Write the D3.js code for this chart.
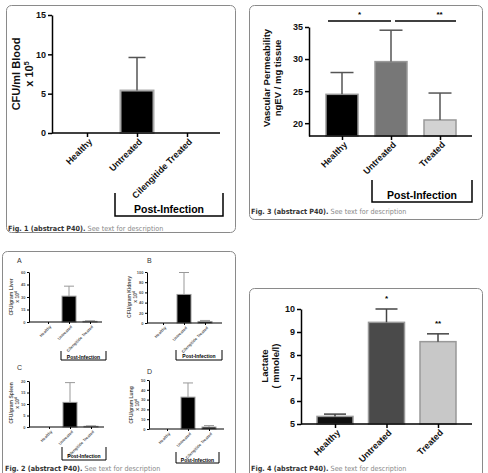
<!DOCTYPE html>
<html>
<head>
<meta charset="utf-8">
<script src="https://cdn.jsdelivr.net/npm/d3@7"></script>
<style>
  body { margin: 0; background: #fff; }
  svg { font-family: "Liberation Sans", Arial, sans-serif; }
</style>
</head>
<body>
<div id="chart"></div>
<script>
// ---- data ----
var cilCats = ["Healthy", "Untreated", "Cilengitide Treated"];
var shortCats = ["Healthy", "Untreated", "Treated"];

// Fig 1: CFU/ml blood x 10^5
var bloodMeans = [0, 5.4, 0];
var bloodUpper = [0, 9.6, 0];
var bloodTicks = [0, 5, 10, 15];

// Fig 3: vascular permeability
var permMeans = [24.5, 29.6, 20.5];
var permUpper = [27.9, 34.5, 24.7];
var permTicks = [20, 25, 30, 35];

// Fig 4: lactate
var lacMeans = [5.33, 9.42, 8.58];
var lacUpper = [5.43, 10.0, 8.92];
var lacTicks = [5, 6, 7, 8, 9, 10];
var lacStars = ["", "*", "**"];

// Fig 2: organ CFU/gram x 10^4
var liverMeans = [0, 31, 0.8];
var liverUpper = [0, 43, 1.5];
var liverTicks = [0, 15, 30, 45, 60];
var kidneyMeans = [0, 56, 3];
var kidneyUpper = [0, 99, 5];
var kidneyTicks = [0, 20, 40, 60, 80, 100];
var spleenMeans = [0, 10.7, 0.3];
var spleenUpper = [0, 19.3, 0.5];
var spleenTicks = [0, 5, 10, 15, 20];
var lungMeans = [0, 32.5, 2];
var lungUpper = [0, 47, 3.5];
var lungTicks = [0, 10, 20, 30, 40, 50];

var svg = d3.select("#chart").append("svg")
  .attr("width", 488)
  .attr("height", 473);

// panel frames
function frame(x, y, w, h) {
  svg.append("rect").attr("x", x).attr("y", y).attr("width", w).attr("height", h)
    .attr("rx", 5).attr("fill", "none").attr("stroke", "#8a8a8a").attr("stroke-width", 1);
}
frame(6.5, 5.5, 229, 227);
frame(249.5, 5.5, 233, 214);
frame(2.5, 251.5, 233, 240);
frame(249.5, 288.5, 233, 200);

function caption(x, y, num) {
  var t = svg.append("text").attr("x", x).attr("y", y)
    .attr("font-size", 7.2).attr("font-family", "'Liberation Sans Narrow', 'DejaVu Sans Condensed', sans-serif");
  t.append("tspan").attr("font-weight", "bold").attr("fill", "#333").text("Fig. " + num + " (abstract P40).");
  t.append("tspan").attr("fill", "#888").text(" See text for description");
}
caption(8, 231, 1);
caption(251, 214, 3);
caption(5, 471, 2);
caption(251, 471, 4);

// generic bar chart
function barChart(o) {
  var y = d3.scaleLinear().domain(o.yDomain).range(o.yRange);
  var x = d3.scalePoint().domain(o.cats).range(o.centers);
  var g = svg.append("g");
  var base = o.yRange[0];

  g.selectAll("rect.bar").data(o.cats).enter().append("rect")
    .attr("class", "bar")
    .attr("x", d => x(d) - o.bw / 2)
    .attr("y", (d, i) => y(o.means[i]))
    .attr("width", o.bw)
    .attr("height", (d, i) => base - y(o.means[i]))
    .attr("fill", (d, i) => o.fills[i])
    .attr("stroke", o.barStroke)
    .attr("stroke-width", o.bsw);

  // upper error bars
  o.cats.forEach(function(d, i) {
    if (o.upper[i] <= o.means[i]) return;
    g.append("line").attr("x1", x(d)).attr("x2", x(d))
      .attr("y1", y(o.means[i])).attr("y2", y(o.upper[i]))
      .attr("stroke", o.errColor).attr("stroke-width", o.esw);
    g.append("line").attr("x1", x(d) - o.cap / 2).attr("x2", x(d) + o.cap / 2)
      .attr("y1", y(o.upper[i])).attr("y2", y(o.upper[i]))
      .attr("stroke", o.errColor).attr("stroke-width", o.esw);
  });

  // y axis
  var ya = g.append("g").attr("transform", "translate(" + o.x0 + ",0)")
    .call(d3.axisLeft(y).tickValues(o.ticks).tickFormat(d3.format("d"))
      .tickSize(o.tick).tickSizeOuter(0).tickPadding(o.pad));
  ya.select(".domain").attr("stroke-width", o.asw);
  ya.selectAll(".tick line").attr("stroke-width", o.asw);
  ya.selectAll("text").attr("font-size", o.fs).attr("font-weight", "bold").attr("fill", o.textColor);

  // x axis
  var xa = g.append("g").attr("transform", "translate(0," + base + ")")
    .call(d3.axisBottom(x).tickSize(o.tick).tickSizeOuter(0));
  xa.select(".domain").remove();
  xa.append("line").attr("x1", o.x0).attr("x2", o.x1).attr("stroke", "#000").attr("stroke-width", o.asw);
  xa.selectAll(".tick line").attr("stroke-width", o.asw);
  xa.selectAll("text")
    .attr("x", 0).attr("y", 0).attr("dy", "0.35em")
    .attr("text-anchor", "end")
    .attr("transform", "translate(" + o.lx + "," + o.ly + ") rotate(-45)")
    .attr("font-size", o.xfs).attr("font-weight", "bold").attr("fill", o.textColor);

  // y title
  o.ylab.forEach(function(line, k) {
    var t = g.append("text")
      .attr("transform", "translate(" + o.ylx[k] + "," + o.lyc + ") rotate(-90)")
      .attr("text-anchor", "middle").attr("font-size", o.yfs).attr("font-weight", "bold")
      .attr("fill", o.textColor);
    t.append("tspan").text(line[0]);
    if (line[1]) t.append("tspan").attr("font-size", o.yfs * 0.65).attr("dy", -o.yfs * 0.4).text(line[1]);
  });
  return {x: x, y: y, g: g};
}

function bracket(x0, x1, yTop, yBot, ty, fs, sw) {
  svg.append("path")
    .attr("d", "M" + x0 + "," + yTop + "V" + yBot + "H" + x1 + "V" + yTop)
    .attr("fill", "none").attr("stroke", "#000").attr("stroke-width", sw);
  svg.append("text").attr("x", (x0 + x1) / 2).attr("y", ty)
    .attr("text-anchor", "middle").attr("font-size", fs).attr("font-weight", "bold")
    .text("Post-Infection");
}

// ---- Fig 1 ----
barChart({
  cats: cilCats, means: bloodMeans, upper: bloodUpper, ticks: bloodTicks,
  yDomain: [0, 15], yRange: [133, 15], centers: [87, 187], x0: 52, x1: 220,
  bw: 33, fills: ["#000", "#000", "#000"], barStroke: "#aaa", bsw: 2,
  errColor: "#555", esw: 1.5, cap: 17, tick: 4, pad: 2, asw: 1.5,
  fs: 9, xfs: 9, textColor: "#111", lx: 3, ly: 7,
  ylab: [["CFU/ml Blood"], ["x 10", "5"]], ylx: [20, 33], lyc: 74, yfs: 11
});
bracket(115, 223, 193, 216, 213, 10.5, 1.5);

// ---- Fig 3 ----
var f3 = barChart({
  cats: shortCats, means: permMeans, upper: permUpper, ticks: permTicks,
  yDomain: [18, 35], yRange: [136, 27], centers: [342, 440], x0: 309, x1: 472,
  bw: 32, fills: ["#000", "#777", "#d2d2d2"], barStroke: "#999", bsw: 1.5,
  errColor: "#555", esw: 1.5, cap: 23, tick: 4, pad: 2, asw: 1.5,
  fs: 9, xfs: 9, textColor: "#111", lx: 3, ly: 7,
  ylab: [["Vascular Permeability"], ["ngEV / mg tissue"]], ylx: [270, 281], lyc: 78, yfs: 9.5
});
var sig = [[328, 391, "*"], [395, 456, "**"]];
sig.forEach(function(s) {
  svg.append("line").attr("x1", s[0]).attr("x2", s[1]).attr("y1", 21).attr("y2", 21)
    .attr("stroke", "#000").attr("stroke-width", 1.5);
  svg.append("text").attr("x", (s[0] + s[1]) / 2 + (s[2] == "**" ? 14 : 0)).attr("y", 17)
    .attr("text-anchor", "middle").attr("font-size", 8).attr("font-weight", "bold").text(s[2]);
});
bracket(372, 472, 180, 202, 199, 10.5, 1.5);

// ---- Fig 4 ----
var f4 = barChart({
  cats: shortCats, means: lacMeans, upper: lacUpper, ticks: lacTicks,
  yDomain: [5, 10], yRange: [424, 309], centers: [335, 438], x0: 301, x1: 472,
  bw: 36, fills: ["#111", "#4a4a4a", "#c8c8c8"], barStroke: "#999", bsw: 1.5,
  errColor: "#444", esw: 1.5, cap: 22, tick: 4, pad: 2, asw: 1.5,
  fs: 9, xfs: 9, textColor: "#111", lx: 3, ly: 7,
  ylab: [["Lactate"], ["( mmole/l)"]], ylx: [268, 279], lyc: 366, yfs: 9.5
});
shortCats.forEach(function(c, i) {
  if (!lacStars[i]) return;
  svg.append("text").attr("x", f4.x(c)).attr("y", f4.y(lacUpper[i]) - 8)
    .attr("text-anchor", "middle").attr("font-size", 8).attr("font-weight", "bold").text(lacStars[i]);
});

// ---- Fig 2 (four small panels) ----
var small = [
  {L: "A", lx: 17, ly: 263, means: liverMeans, upper: liverUpper, ticks: liverTicks, dom: [0, 60],
   yr: [322, 272], c: [48, 90], x0: 29, x1: 102, lab: "CFU/gram Liver", tx: [13, 19], lyc: 297,
   br: [61, 106, 351, 360, 358.5]},
  {L: "B", lx: 147, ly: 263, means: kidneyMeans, upper: kidneyUpper, ticks: kidneyTicks, dom: [0, 100],
   yr: [323, 272], c: [163, 205], x0: 147, x1: 222, lab: "CFU/gram Kidney", tx: [131, 137], lyc: 297,
   br: [176, 222, 350, 360, 358]},
  {L: "C", lx: 17, ly: 370, means: spleenMeans, upper: spleenUpper, ticks: spleenTicks, dom: [0, 20],
   yr: [427, 381], c: [49, 91], x0: 29, x1: 104, lab: "CFU/gram Spleen", tx: [13, 19], lyc: 403,
   br: [62, 106, 447, 460, 458]},
  {L: "D", lx: 147, ly: 374, means: lungMeans, upper: lungUpper, ticks: lungTicks, dom: [0, 50],
   yr: [429, 380], c: [167, 209], x0: 149, x1: 224, lab: "CFU/gram Lung", tx: [133, 139], lyc: 405,
   br: [176, 219, 452, 463, 461.5]}
];
small.forEach(function(p) {
  svg.append("text").attr("x", p.lx).attr("y", p.ly).attr("font-size", 7).attr("fill", "#333").text(p.L);
  barChart({
    cats: cilCats, means: p.means, upper: p.upper, ticks: p.ticks,
    yDomain: p.dom, yRange: p.yr, centers: p.c, x0: p.x0, x1: p.x1,
    bw: 14, fills: ["#000", "#000", "#000"], barStroke: "#999", bsw: 1,
    errColor: "#999", esw: 1, cap: 10, tick: 2, pad: 1.5, asw: 1,
    fs: 4, xfs: 4, textColor: "#555", lx: 2, ly: 4,
    ylab: [[p.lab], ["x 10", "4"]], ylx: p.tx, lyc: p.lyc, yfs: 5
  });
  bracket(p.br[0], p.br[1], p.br[2], p.br[3], p.br[4], 5, 1);
});
</script>
</body>
</html>
